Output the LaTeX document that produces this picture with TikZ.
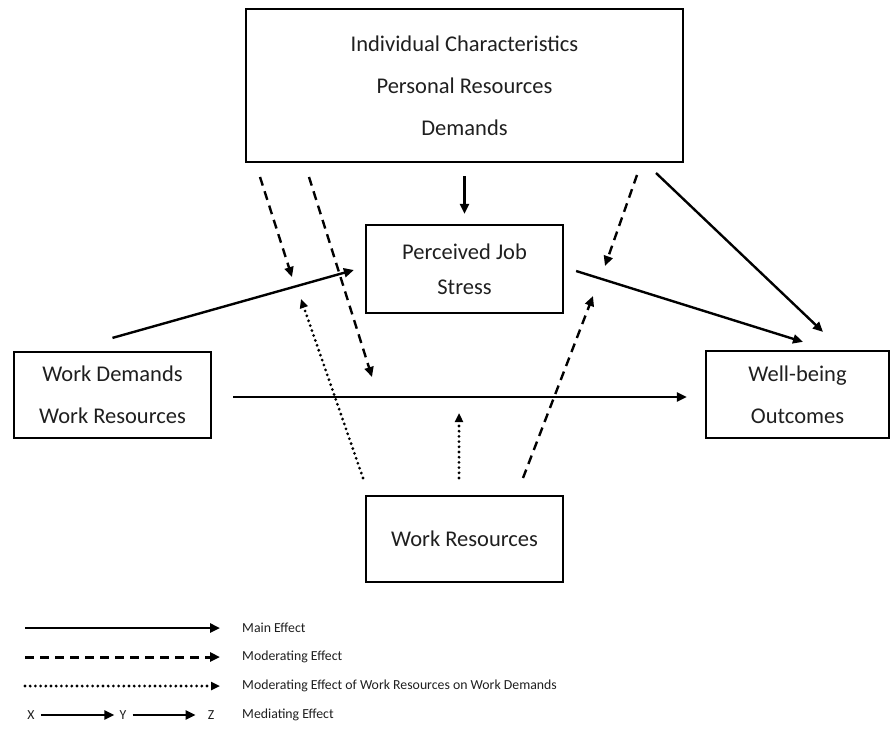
\documentclass[tikz,border=0pt]{standalone}
\usepackage{fontspec}
\setmainfont{Carlito}
\usetikzlibrary{arrows.meta,calc}
\begin{document}
\begin{tikzpicture}[x=1pt,y=-1pt,
  box/.style={draw, line width=2.2pt, align=center, inner sep=0pt,
    font=\fontsize{22.5}{42}\selectfont, text=black!88},
  main/.style={line width=2.4pt, -{Triangle[length=10pt,width=9pt]}},
  moder/.style={main, dash pattern=on 9pt off 6pt},
  dotarr/.style={line width=3.1pt, line cap=round, dash pattern=on 0pt off 5.2pt,
    -{Triangle[length=9pt,width=8pt]}},
  legtext/.style={anchor=west, inner sep=0pt, font=\fontsize{13.8}{16}\selectfont, text=black!88}]

\useasboundingbox (0,0) rectangle (893,733);

% boxes
\node[box, line width=2.8pt, minimum width=437pt, minimum height=153pt] (top) at (464.5,85.5)
  {Individual Characteristics\\Personal Resources\\Demands};
\node[box, minimum width=197pt, minimum height=88pt, font=\fontsize{22.5}{35}\selectfont] (pjs) at (464.5,269)
  {Perceived Job\\Stress};
\node[box, minimum width=197pt, minimum height=86pt] (wd) at (112.5,395)
  {Work Demands\\Work Resources};
\node[box, minimum width=183pt, minimum height=87pt] (wb) at (797.5,394.5)
  {Well-being\\Outcomes};
\node[box, minimum width=197pt, minimum height=86pt] (wr) at (464.5,539)
  {Work Resources};

% main effects
\draw[main] ($(top.south)+(0,13)$) -- ($(pjs.north)+(0,-10)$);
\draw[main] ($(wd.north)+(0,-13)$) -- ($(pjs.west)+(-11,1)$);
\draw[main] ($(pjs.east)+(12,2)$) -- ($(wb.north)+(5.5,-8)$);
\draw[main] ($(wd.east)+(21,2)$) -- ($(wb.west)+(-18,2.5)$);
\draw[main] (656,173) coordinate (tr) -- ($(wb.north)+(25.5,-18)$);

% moderating effects of the top box
\coordinate (m1) at (260,177);  \coordinate (m1e) at (292,277);
\coordinate (m2) at (309,177);  \coordinate (m2e) at (372,377);
\coordinate (m3) at (637,175);  \coordinate (m3e) at (605,266);
\draw[moder] (m1) -- (m1e);
\draw[moder] (m2) -- (m2e);
\draw[moder] (m3) -- (m3e);

% moderating effects of the bottom box
\coordinate (r1) at (363,478);  \coordinate (r1e) at (301,299);
\coordinate (r2) at (459,478);  \coordinate (r2e) at (459,413);
\coordinate (r3) at (523,478);  \coordinate (r3e) at (593,296);
\draw[dotarr] (r1) -- (r1e);
\draw[dotarr] (r2) -- (r2e);
\draw[moder] (r3) -- (r3e);

% legend
\coordinate (l1a) at (25,628); \coordinate (l1b) at (220,628);
\coordinate (l2a) at (25,657); \coordinate (l2b) at (220,657);
\coordinate (l3a) at (25,686); \coordinate (l3b) at (220,686);
\draw[main] (l1a) -- (l1b);
\draw[moder, line width=3pt] (l2a) -- (l2b);
\draw[dotarr] (l3a) -- (l3b);
\node[legtext] (t1) at (242,628) {Main Effect};
\node[legtext] (t2) at (242,657) {Moderating Effect};
\node[legtext] (t3) at (242,686) {Moderating Effect of Work Resources on Work Demands};
\node[legtext] (t4) at (242,715) {Mediating Effect};
\node[legtext, anchor=center] (lx) at (31,715) {X};
\node[legtext, anchor=center] (ly) at (123,715) {Y};
\node[legtext, anchor=center] (lz) at (211,715) {Z};
\draw[main, line width=2.3pt] ($(lx.east)+(6,0)$) -- ($(ly.west)+(-5,0)$);
\draw[main, line width=2.3pt] ($(ly.east)+(6,0)$) -- ($(lz.west)+(-12,0)$);
\end{tikzpicture}
\end{document}
